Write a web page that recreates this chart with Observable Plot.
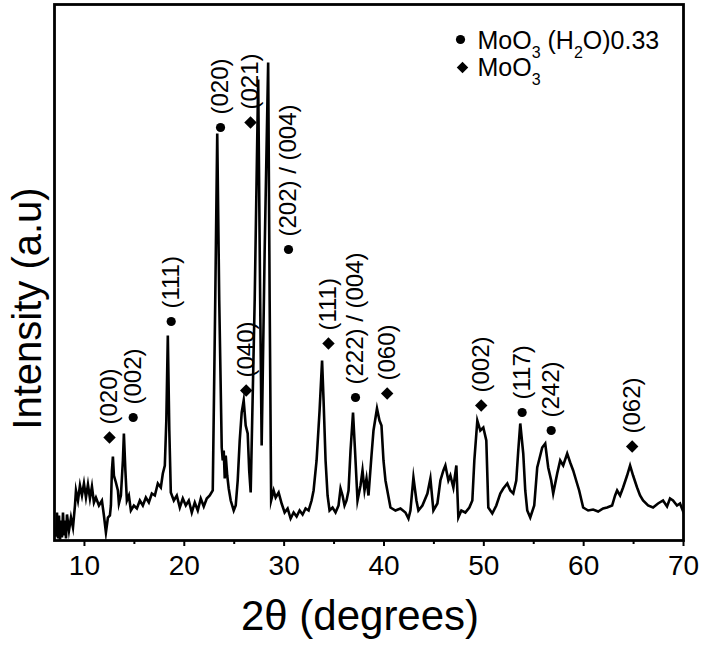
<!DOCTYPE html>
<html>
<head>
<meta charset="utf-8">
<script src="https://cdn.jsdelivr.net/npm/d3@7"></script>
<script src="https://cdn.jsdelivr.net/npm/@observablehq/plot@0.6"></script>
<style>
  html, body { margin: 0; padding: 0; background: #fff; }
  #chart { width: 708px; height: 649px; }
</style>
</head>
<body>
<div id="chart"></div>
<script>
// XRD pattern: 2-theta (degrees) and intensity (arbitrary units)
const twoTheta = [
  7.15,7.25,7.35,7.45,7.55,7.65,7.75,7.85,7.95,8.05,8.15,8.25,8.45,8.65,8.85,9.05,9.15,9.35,9.55,9.75,
  9.95,10.15,10.35,10.55,10.75,10.95,11.15,11.45,11.75,11.95,12.15,12.35,12.55,12.65,12.75,12.85,12.95,13.15,13.35,13.45,
  13.65,13.85,13.95,14.1,14.25,14.45,14.65,14.95,15.25,15.55,15.85,16.15,16.45,16.75,17.05,17.35,17.65,17.85,18.05,18.2,
  18.35,18.5,18.65,18.95,19.25,19.55,19.85,20.15,20.45,20.75,21.05,21.35,21.65,21.95,22.25,22.55,22.85,23.1,23.3,23.5,
  23.75,23.85,23.95,24.05,24.15,24.3,24.45,24.65,24.95,25.15,25.35,25.55,25.75,25.95,26.15,26.35,26.5,26.65,27.05,27.4,
  27.6,27.75,28.05,28.4,28.55,28.7,28.95,29.15,29.45,29.75,30.05,30.35,30.65,30.95,31.25,31.55,31.85,32.15,32.45,32.75,
  32.95,33.25,33.55,33.8,33.95,34.15,34.35,34.55,34.85,35.15,35.45,35.65,35.85,36.05,36.25,36.45,36.65,36.9,37.1,37.35,
  37.65,37.85,38.05,38.25,38.45,38.75,38.95,39.3,39.55,39.75,39.95,40.15,40.65,41.15,41.65,42.15,42.45,42.65,42.95,43.25,
  43.45,43.85,44.35,44.65,44.95,45.35,45.65,45.95,46.15,46.45,46.65,46.95,47.25,47.45,47.75,48.15,48.55,48.85,49.05,49.35,
  49.65,49.95,50.25,50.45,50.85,51.25,51.65,51.95,52.35,52.65,52.95,53.25,53.45,53.65,53.95,54.15,54.35,54.65,55.05,55.35,
  55.65,55.85,56.15,56.45,56.75,56.95,57.35,57.65,57.95,58.35,58.65,58.95,59.25,59.55,59.95,60.45,60.95,61.45,61.95,62.35,
  62.85,63.15,63.35,63.65,63.95,64.35,64.65,64.95,65.35,65.65,65.95,66.45,66.95,67.45,67.95,68.35,68.65,68.95,69.35,69.65,
  70.05
];
const intensity = [
  5,28,2,25,0,20,3,28,5,20,2,26,10,23,13,35,50,40,55,45,
  57,43,56,42,54,38,43,35,40,25,8,23,25,35,70,84,65,58,50,37,
  45,80,107,70,40,45,30,35,32,40,35,43,38,47,45,57,53,67,75,120,
  205,110,48,40,45,33,42,35,40,28,38,30,42,34,42,45,50,240,407,240,
  93,80,90,62,85,65,52,40,30,35,60,100,128,140,115,107,70,48,240,461,
  240,95,290,478,240,40,50,43,48,37,28,32,22,28,24,30,26,32,30,40,
  50,80,130,180,140,80,45,30,33,28,35,52,45,35,40,50,90,128,90,40,
  55,70,50,62,45,85,110,132,120,115,80,60,33,30,32,28,22,30,63,40,
  30,35,47,62,30,37,60,70,75,60,65,53,75,23,30,28,33,40,80,120,
  110,113,100,33,27,35,47,52,57,50,47,60,90,117,87,50,30,23,35,73,
  85,93,97,73,60,47,67,80,75,87,78,70,60,50,33,30,31,29,32,33,
  35,45,50,45,53,65,75,65,53,45,40,35,33,37,40,34,42,40,35,37,
  27
];

// Peak markers: position, height of marker, phase, Miller indices
const peakTheta  = [12.51, 14.88, 18.69, 23.63, 26.2, 26.63, 30.44, 34.44, 37.15, 40.32, 49.74, 53.84, 56.75, 64.86];
const peakHeight = [103, 123, 219, 413, 150, 418, 291, 197, 143, 147, 135, 128, 110, 94];
const peakPhase  = ["MoO3", "hydrate", "hydrate", "hydrate", "MoO3", "MoO3", "hydrate", "MoO3", "hydrate", "MoO3", "MoO3", "hydrate", "hydrate", "MoO3"];
const peakLabels = ["(020)", "(002)", "(111)", "(020)", "(040)", "(021)", "(202) / (004)", "(111)", "(222) / (004)", "(060)", "(002)", "(117)", "(242)", "(062)"];

const xTicks = [10, 20, 30, 40, 50, 60, 70];
const xMinorTicks = [15, 25, 35, 45, 55, 65];
const legendLabels = ["MoO3 (H2O)0.33", "MoO3"];
const xTitle = "2θ (degrees)";
const yTitle = "Intensity (a.u)";

const pattern = twoTheta.map((t, i) => ({t, I: intensity[i]}));
const peaks = peakTheta.map((t, i) => ({t, I: peakHeight[i], phase: peakPhase[i], label: peakLabels[i]}));
const hydratePeaks = peaks.filter(d => d.phase === "hydrate");
const moo3Peaks = peaks.filter(d => d.phase === "MoO3");

const FONT = "'Liberation Sans', Arial, Helvetica, sans-serif";

const chart = Plot.plot({
  width: 708,
  height: 649,
  marginLeft: 54,
  marginRight: 25,
  marginTop: 4,
  marginBottom: 109,
  style: {fontFamily: FONT, fontSize: "24px", background: "#fff", color: "#000", overflow: "visible"},
  x: {domain: [7, 70]},
  y: {domain: [0, 536], axis: null},
  marks: [
    Plot.line(pattern, {x: "t", y: "I", stroke: "#000", strokeWidth: 2.6, clip: true, strokeLinejoin: "miter", strokeMiterlimit: 10}),
    Plot.dot(hydratePeaks, {x: "t", y: "I", r: 4.6, fill: "#000", symbol: "circle"}),
    Plot.dot(moo3Peaks, {x: "t", y: "I", r: 5.6, fill: "#000", symbol: "diamond2"}),
    Plot.text(peaks, {x: "t", y: "I", text: "label", rotate: -90, textAnchor: "start", lineAnchor: "middle", dy: -13, fontSize: 24, fill: "#000"}),
    Plot.frame({stroke: "#000", strokeWidth: 2.8}),
    Plot.axisX(xTicks, {tickSize: 6, tickPadding: 9, strokeWidth: 2, fontSize: 28, label: null}),
    Plot.axisX(xMinorTicks, {tickSize: 4, strokeWidth: 2, tickFormat: () => "", label: null}),
    Plot.text([xTitle], {text: d => d, frameAnchor: "bottom", textAnchor: "middle", dx: -9, dy: 76, fontSize: 42, lineAnchor: "middle", fill: "#000"}),
    Plot.text([yTitle], {text: d => d, frameAnchor: "left", textAnchor: "middle", rotate: -90, dx: -26, dy: 36, fontSize: 40, lineAnchor: "middle", fill: "#000"}),
    Plot.dot([legendLabels[0]], {frameAnchor: "top-right", dx: -223, dy: 35, r: 4.6, fill: "#000", symbol: "circle"}),
    Plot.text([legendLabels[0]], {text: d => d, frameAnchor: "top-right", dx: -206, dy: 36, textAnchor: "start", lineAnchor: "middle", fontSize: 25, fill: "#000"}),
    Plot.dot([legendLabels[1]], {frameAnchor: "top-right", dx: -221, dy: 63, r: 5.2, fill: "#000", symbol: "diamond2"}),
    Plot.text([legendLabels[1]], {text: d => d, frameAnchor: "top-right", dx: -206, dy: 63, textAnchor: "start", lineAnchor: "middle", fontSize: 25, fill: "#000"})
  ]
});

// Render chemical subscripts in the legend as real text with tspans
d3.select(chart).selectAll("text").each(function() {
  const s = this.textContent;
  if (!legendLabels.includes(s)) return;
  const parts = s === legendLabels[0]
    ? [["MoO", 0], ["3", 1], [" (H", 0], ["2", 1], ["O)0.33", 0]]
    : [["MoO", 0], ["3", 1]];
  const el = d3.select(this);
  el.text(null);
  let shifted = false;
  for (const [txt, sub] of parts) {
    const ts = el.append("tspan").text(txt);
    if (sub && !shifted) { ts.attr("dy", 9).attr("font-size", 16); shifted = true; }
    else if (sub) { ts.attr("font-size", 16); }
    else if (shifted) { ts.attr("dy", -9); shifted = false; }
  }
});

document.getElementById("chart").appendChild(chart);
</script>
</body>
</html>
